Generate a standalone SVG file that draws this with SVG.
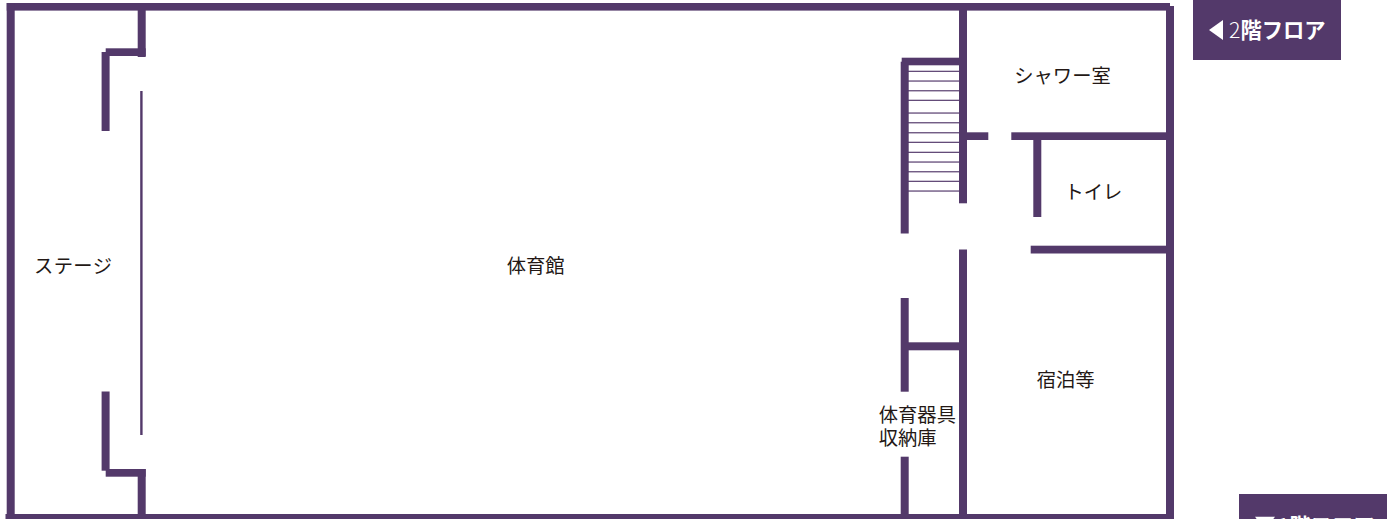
<svg xmlns="http://www.w3.org/2000/svg" width="1394" height="519" viewBox="0 0 1394 519">
<style>
.w{fill:#53396a}
.s{fill:#53396a;opacity:.9}
.t{font-family:"Noto Sans CJK JP","Noto Sans CJK SC",sans-serif;font-size:19.3px;font-weight:400;fill:#231815}
.b{font-family:"Noto Sans CJK JP","Noto Sans CJK SC",sans-serif;font-size:21.3px;font-weight:700;fill:#fff}
</style>
<rect width="1394" height="519" fill="#fff"/>
<g id="walls">
<rect class="w" x="6.7" y="3" width="1163.3" height="7.6"/>
<rect class="w" x="6.7" y="3" width="8" height="516"/>
<rect class="w" x="1166" y="6" width="8" height="513"/>
<rect class="w" x="5.5" y="514" width="1168.5" height="5"/>
<rect class="w" x="137.7" y="10" width="8" height="47"/>
<rect class="w" x="105.7" y="48.3" width="40" height="7.7"/>
<rect class="w" x="101.6" y="52" width="8" height="79"/>
<rect class="w" x="140.2" y="91" width="2.4" height="344"/>
<rect class="w" x="101.6" y="391.5" width="8" height="79.2"/>
<rect class="w" x="105.7" y="469" width="40" height="7.7"/>
<rect class="w" x="137.7" y="469" width="8" height="46"/>
<rect class="w" x="959" y="10" width="8" height="193.3"/>
<rect class="w" x="959" y="249.5" width="8" height="266"/>
<rect class="w" x="900.7" y="61.7" width="8" height="171.8"/>
<rect class="w" x="901.7" y="57.7" width="58" height="7.6"/>
<rect class="w" x="967" y="132.3" width="21.3" height="7.7"/>
<rect class="w" x="1011.3" y="132.3" width="155" height="7.7"/>
<rect class="w" x="1033.3" y="140" width="8" height="77"/>
<rect class="w" x="1030.7" y="245.7" width="136" height="7.8"/>
<rect class="w" x="900.7" y="298" width="8" height="93.7"/>
<rect class="w" x="900.7" y="456.7" width="8" height="58"/>
<rect class="w" x="908" y="342.3" width="52" height="8"/>
</g>
<g id="stairs">
<rect class="s" x="908" y="70.7" width="51.5" height="1.3"/>
<rect class="s" x="908" y="80.4" width="51.5" height="1.3"/>
<rect class="s" x="908" y="90.1" width="51.5" height="1.3"/>
<rect class="s" x="908" y="99.7" width="51.5" height="1.3"/>
<rect class="s" x="908" y="112.4" width="51.5" height="1.3"/>
<rect class="s" x="908" y="122.1" width="51.5" height="1.3"/>
<rect class="s" x="908" y="132.1" width="51.5" height="1.3"/>
<rect class="s" x="908" y="141.7" width="51.5" height="1.3"/>
<rect class="s" x="908" y="151.7" width="51.5" height="1.3"/>
<rect class="s" x="908" y="161.4" width="51.5" height="1.3"/>
<rect class="s" x="908" y="171.1" width="51.5" height="1.3"/>
<rect class="s" x="908" y="180.7" width="51.5" height="1.3"/>
<rect class="s" x="908" y="190.4" width="51.5" height="1.3"/>
</g>
<g id="n-stage"><text class="t" x="34" y="273" letter-spacing="0.4">ステージ</text></g>
<g id="n-gym"><text class="t" x="506.8" y="273">体育館</text></g>
<g id="n-shower"><text class="t" x="1014.3" y="82.5">シャワー室</text></g>
<g id="n-toilet"><text class="t" x="1064.5" y="199">トイレ</text></g>
<g id="n-lodging"><text class="t" x="1036.8" y="386.5">宿泊等</text></g>
<g id="n-storage"><text class="t"><tspan x="878.8" y="421.5">体育器具</tspan><tspan x="878.8" y="444.5">収納庫</tspan></text></g>
<g id="btn-2f">
<rect class="w" x="1193" y="0" width="148" height="60"/>
<polygon points="1209,30 1223,20 1223,40" fill="#fff"/>
<text class="b" x="1229" y="37.5"><tspan font-weight="300">2</tspan>階フロア</text>
</g>
<g id="btn-1f">
<rect class="w" x="1239" y="494" width="148" height="25"/>
<polygon points="1255,516.7 1275,516.7 1265,530.7" fill="#fff"/>
<text class="b" x="1278" y="533.5"><tspan font-weight="300">1</tspan>階フロア</text>
</g>
</svg>
